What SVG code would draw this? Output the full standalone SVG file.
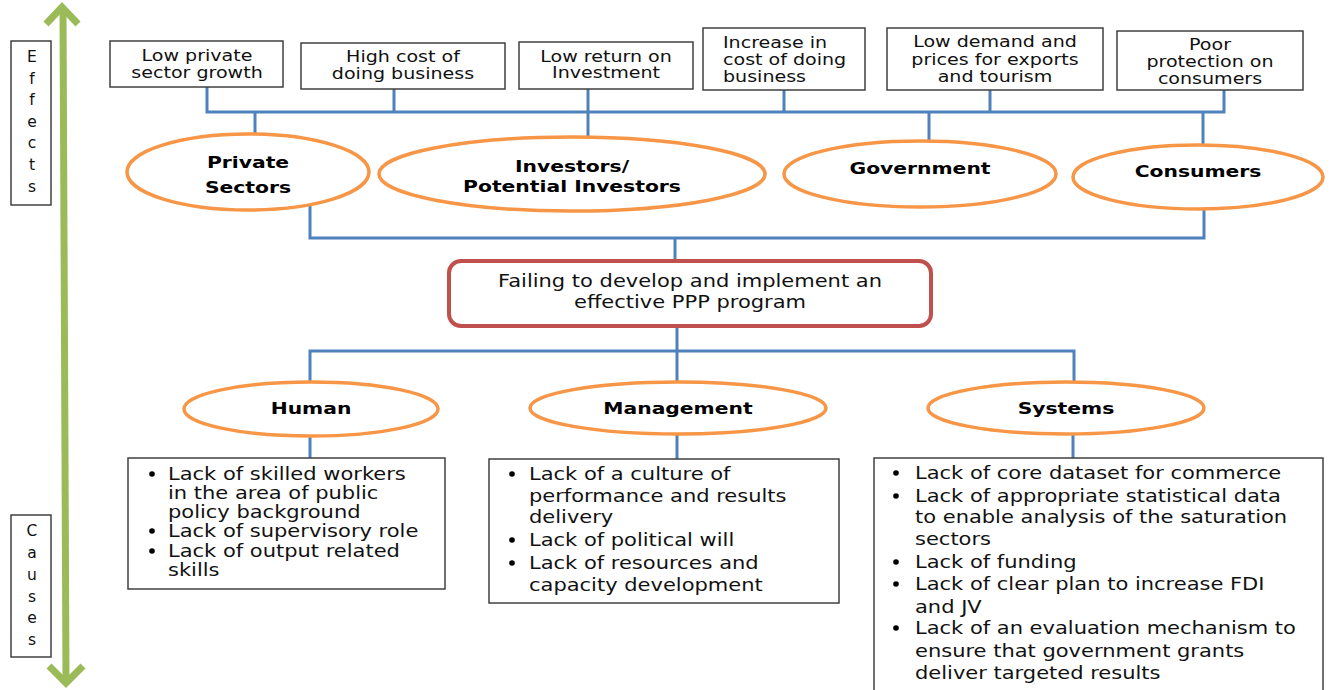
<svg xmlns="http://www.w3.org/2000/svg" width="1330" height="690" viewBox="0 0 1330 690">
  <defs>
    <style>
      .box{fill:#fff;stroke:#404040;stroke-width:1.5}
      .ell{fill:#fff;stroke:#F79646;stroke-width:3.5}
      .core{fill:#fff;stroke:#C0504D;stroke-width:4}
      .t{font-family:"DejaVu Sans","Liberation Sans",sans-serif;font-size:15.5px;fill:#111}
      .tl{font-size:17.5px}
      .tb{font-family:"DejaVu Sans","Liberation Sans",sans-serif;font-size:16.5px;font-weight:bold;fill:#000}
      .c{text-anchor:middle}
      .conn path{fill:none;stroke:#4F81BD;stroke-width:3}
      .axis{fill:none;stroke:#9BBB59;stroke-width:7}
      .dot{fill:#000}
    </style>
  </defs>
  <rect width="1330" height="690" fill="#fff"/>

  <!-- vertical effects/causes axis -->
  <g id="axis">
    <path class="axis" d="M63,9 L66,680"/>
    <polyline class="axis" points="46,24 62,7 78,24"/>
    <polyline class="axis" points="49,666 66,683 83,666"/>
  </g>
  <g id="label-effects">
    <rect class="box" x="11" y="41" width="40" height="164"/>
    <text class="t c" x="32"><tspan x="32" y="62">E</tspan><tspan x="32" y="84">f</tspan><tspan x="32" y="105">f</tspan><tspan x="32" y="127">e</tspan><tspan x="32" y="148">c</tspan><tspan x="32" y="170">t</tspan><tspan x="32" y="192">s</tspan></text>
  </g>
  <g id="label-causes">
    <rect class="box" x="11" y="515" width="40" height="142"/>
    <text class="t c" x="32"><tspan x="32" y="536">C</tspan><tspan x="32" y="558">a</tspan><tspan x="32" y="580">u</tspan><tspan x="32" y="602">s</tspan><tspan x="32" y="623">e</tspan><tspan x="32" y="645">s</tspan></text>
  </g>

  <!-- connectors -->
  <g id="connectors" class="conn">
    <path d="M207,87 V112 H1224 V90"/>
    <path d="M394,89 V112"/>
    <path d="M588,89 V137"/>
    <path d="M784,90 V112"/>
    <path d="M990,90 V112"/>
    <path d="M255,112 V135"/>
    <path d="M929,112 V141"/>
    <path d="M1203,112 V145"/>
    <path d="M310,204 V238 H1204 V209"/>
    <path d="M675,238 V261"/>
    <path d="M677,326 V383"/>
    <path d="M310,383 V351 H1074 V383"/>
    <path d="M310,436 V458"/>
    <path d="M677,434 V459"/>
    <path d="M1073,434 V458"/>
  </g>

  <!-- effects -->
  <g id="effect-low-private-growth">
    <rect class="box" x="110" y="41" width="173" height="46"/>
    <text class="t c" transform="translate(197,0) scale(1.23,1)"><tspan x="0" y="61">Low private</tspan><tspan x="0" y="78">sector growth</tspan></text>
  </g>
  <g id="effect-high-cost">
    <rect class="box" x="301" y="43" width="204" height="46"/>
    <text class="t c" transform="translate(403,0) scale(1.23,1)"><tspan x="0" y="62">High cost of</tspan><tspan x="0" y="79">doing business</tspan></text>
  </g>
  <g id="effect-low-return">
    <rect class="box" x="519" y="42" width="174" height="47"/>
    <text class="t c" transform="translate(606,0) scale(1.23,1)"><tspan x="0" y="62">Low return on</tspan><tspan x="0" y="78">Investment</tspan></text>
  </g>
  <g id="effect-increase-cost">
    <rect class="box" x="703" y="28" width="162" height="62"/>
    <text class="t" transform="translate(723,0) scale(1.23,1)"><tspan x="0" y="48">Increase in</tspan><tspan x="0" y="65">cost of doing</tspan><tspan x="0" y="82">business</tspan></text>
  </g>
  <g id="effect-low-demand">
    <rect class="box" x="887" y="28" width="216" height="62"/>
    <text class="t c" transform="translate(995,0) scale(1.23,1)"><tspan x="0" y="47">Low demand and</tspan><tspan x="0" y="65">prices for exports</tspan><tspan x="0" y="82">and tourism</tspan></text>
  </g>
  <g id="effect-poor-protection">
    <rect class="box" x="1117" y="31" width="186" height="59"/>
    <text class="t c" transform="translate(1210,0) scale(1.23,1)"><tspan x="0" y="50">Poor</tspan><tspan x="0" y="67">protection on</tspan><tspan x="0" y="84">consumers</tspan></text>
  </g>

  <!-- stakeholders -->
  <g id="stakeholder-private">
    <ellipse class="ell" cx="248" cy="172" rx="121" ry="38"/>
    <text class="tb c" transform="translate(248,0) scale(1.23,1)"><tspan x="0" y="168">Private</tspan><tspan x="0" y="193">Sectors</tspan></text>
  </g>
  <g id="stakeholder-investors">
    <ellipse class="ell" cx="572" cy="174" rx="193" ry="37"/>
    <text class="tb c" transform="translate(572,0) scale(1.23,1)"><tspan x="0" y="172">Investors/</tspan><tspan x="0" y="192">Potential Investors</tspan></text>
  </g>
  <g id="stakeholder-government">
    <ellipse class="ell" cx="920" cy="174" rx="136" ry="33"/>
    <text class="tb c" transform="translate(920,0) scale(1.23,1)" y="174">Government</text>
  </g>
  <g id="stakeholder-consumers">
    <ellipse class="ell" cx="1198" cy="177" rx="125" ry="32"/>
    <text class="tb c" transform="translate(1198,0) scale(1.23,1)" y="177">Consumers</text>
  </g>

  <!-- core problem -->
  <g id="core-problem">
    <rect class="core" x="449" y="261" width="482" height="65" rx="12"/>
    <text class="t tl c" transform="translate(690,0) scale(1.2,1)"><tspan x="0" y="287">Failing to develop and implement an</tspan><tspan x="0" y="308">effective PPP program</tspan></text>
  </g>

  <!-- cause categories -->
  <g id="cause-human">
    <ellipse class="ell" cx="311" cy="409" rx="127" ry="27"/>
    <text class="tb c" transform="translate(311,0) scale(1.23,1)" y="414">Human</text>
  </g>
  <g id="cause-management">
    <ellipse class="ell" cx="678" cy="408" rx="148" ry="26"/>
    <text class="tb c" transform="translate(678,0) scale(1.23,1)" y="414">Management</text>
  </g>
  <g id="cause-systems">
    <ellipse class="ell" cx="1066" cy="408" rx="138" ry="26"/>
    <text class="tb c" transform="translate(1066,0) scale(1.23,1)" y="414">Systems</text>
  </g>

  <!-- cause details -->
  <g id="details-human">
    <rect class="box" x="128" y="458" width="317" height="131"/>
    <circle class="dot" cx="152" cy="474" r="2.8"/>
    <circle class="dot" cx="152" cy="531" r="2.8"/>
    <circle class="dot" cx="152" cy="551" r="2.8"/>
    <text class="t tl" transform="translate(168,0) scale(1.2,1)"><tspan x="0" y="480">Lack of skilled workers</tspan><tspan x="0" y="499">in the area of public</tspan><tspan x="0" y="518">policy background</tspan><tspan x="0" y="537">Lack of supervisory role</tspan><tspan x="0" y="557">Lack of output related</tspan><tspan x="0" y="576">skills</tspan></text>
  </g>
  <g id="details-management">
    <rect class="box" x="489" y="459" width="350" height="144"/>
    <circle class="dot" cx="512" cy="474" r="2.8"/>
    <circle class="dot" cx="512" cy="540" r="2.8"/>
    <circle class="dot" cx="512" cy="563" r="2.8"/>
    <text class="t tl" transform="translate(529,0) scale(1.2,1)"><tspan x="0" y="480">Lack of a culture of</tspan><tspan x="0" y="502">performance and results</tspan><tspan x="0" y="523">delivery</tspan><tspan x="0" y="546">Lack of political will</tspan><tspan x="0" y="569">Lack of resources and</tspan><tspan x="0" y="591">capacity development</tspan></text>
  </g>
  <g id="details-systems">
    <rect class="box" x="874" y="458" width="449" height="240"/>
    <circle class="dot" cx="896" cy="473" r="2.8"/>
    <circle class="dot" cx="896" cy="496" r="2.8"/>
    <circle class="dot" cx="896" cy="562" r="2.8"/>
    <circle class="dot" cx="896" cy="584" r="2.8"/>
    <circle class="dot" cx="896" cy="628" r="2.8"/>
    <text class="t tl" transform="translate(915,0) scale(1.2,1)"><tspan x="0" y="479">Lack of core dataset for commerce</tspan><tspan x="0" y="502">Lack of appropriate statistical data</tspan><tspan x="0" y="523">to enable analysis of the saturation</tspan><tspan x="0" y="545">sectors</tspan><tspan x="0" y="568">Lack of funding</tspan><tspan x="0" y="590">Lack of clear plan to increase FDI</tspan><tspan x="0" y="613">and JV</tspan><tspan x="0" y="634">Lack of an evaluation mechanism to</tspan><tspan x="0" y="657">ensure that government grants</tspan><tspan x="0" y="679">deliver targeted results</tspan></text>
  </g>
</svg>
